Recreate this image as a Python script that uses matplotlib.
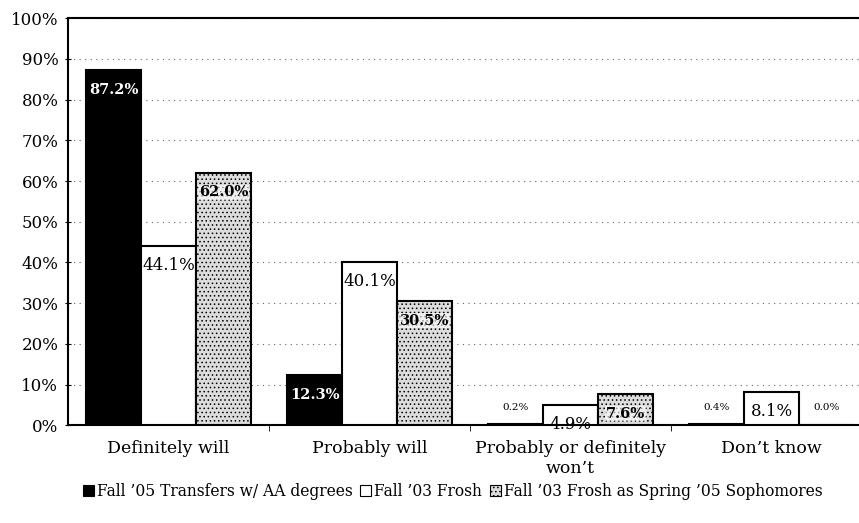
import matplotlib.pyplot as plt
import numpy as np
from matplotlib.patches import Patch

plt.rcParams["font.family"] = ["DejaVu Serif"]

# ===============================
categories = ["Definitely will", "Probably will", "Probably or definitely\nwon\u2019t", "Don\u2019t know"]
series_names = ["Fall \u201905 Transfers w/ AA degrees", "Fall \u201903 Frosh",
                "Fall \u201903 Frosh as Spring \u201905 Sophomores"]
transfers = [87.2, 12.3, 0.2, 0.4]
frosh = [44.1, 40.1, 4.9, 8.1]
sophomores = [62.0, 30.5, 7.6, 0.0]
yticks = np.arange(0, 101, 10)

# ===============================
fig = plt.figure(figsize=(8.59, 5.23), dpi=100)
ax = fig.add_axes([0.0792, 0.187, 0.921, 0.778])

x = np.arange(len(categories))
w = 0.273

styles = [
    dict(facecolor="black", edgecolor="black"),
    dict(facecolor="white", edgecolor="black"),
    dict(facecolor="#dcdcdc", edgecolor="black", hatch="...."),
]
text_styles = [
    dict(color="white", fontweight="bold", fontsize=10.5),
    dict(color="black", fontweight="normal", fontsize=12),
    dict(color="black", fontweight="bold", fontsize=10.5),
]

plt.rcParams["hatch.color"] = "#555555"
plt.rcParams["hatch.linewidth"] = 0.6

for i, vals in enumerate([transfers, frosh, sophomores]):
    pos = x + (i - 1) * w
    ax.bar(pos, vals, width=w, linewidth=1.5, zorder=3, **styles[i])
    for xp, v in zip(pos, vals):
        lbl = f"{v:.1f}%"
        if v < 1:
            ax.text(xp, 4.4, lbl, ha="center", va="center", fontsize=7.5, zorder=4)
        else:
            kw = dict(text_styles[i])
            if i == 2:
                kw["bbox"] = dict(facecolor="white", edgecolor="none", alpha=0.6, pad=0.5)
            ax.annotate(lbl, (xp, v), xytext=(0, -14), textcoords="offset points",
                        ha="center", va="center", zorder=4, **kw)

ax.set_ylim(0, 100)
ax.set_xlim(-0.5, (859 - 68) / 201 - 0.5)
ax.set_yticks(yticks)
ax.set_yticklabels([f"{t}%" for t in yticks], fontsize=12)
ax.set_xticks(x)
ax.set_xticklabels(categories, fontsize=12.5)
ax.tick_params(axis="x", which="major", length=0, pad=11)
ax.set_xticks(x[:-1] + 0.5, minor=True)
ax.tick_params(axis="x", which="minor", length=4, direction="out")
ax.tick_params(axis="y", length=4, direction="inout", pad=5)

ax.grid(axis="y", linestyle=(0, (1, 4)), color="#666666", linewidth=0.8, zorder=0)
for s in ["left", "bottom", "top"]:
    ax.spines[s].set_linewidth(1.5)
ax.spines["right"].set_visible(False)

handles = [Patch(**styles[i], linewidth=0.8) for i in range(3)]
fig.legend(handles, series_names, loc="center", bbox_to_anchor=(0.527, 0.06), ncol=3,
           frameon=False, fontsize=11.2, handlelength=0.7, handleheight=0.7,
           handletextpad=0.2, columnspacing=0.5)

plt.savefig("out.png", dpi=100)
